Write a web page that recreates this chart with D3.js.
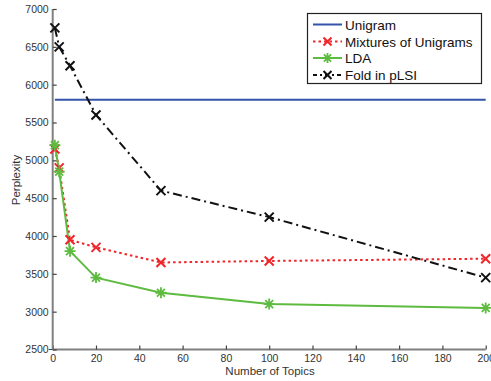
<!DOCTYPE html>
<html><head><meta charset="utf-8">
<script src="https://cdn.jsdelivr.net/npm/d3@7"></script>
<style>body{margin:0;background:#fff}svg{display:block}text{font-family:"Liberation Sans",Arial,sans-serif}</style>
</head><body><svg id="c" width="491" height="381"></svg>
<script>
const topics = [1, 3, 8, 20, 50, 100, 200];
const unigram = [5800, 5800];
const unigramX = [1, 200];
const mixtures = [5150, 4900, 3950, 3850, 3650, 3670, 3700];
const lda = [5200, 4850, 3800, 3450, 3250, 3100, 3050];
const plsi = [6750, 6500, 6250, 5600, 4600, 4250, 3450];
const xTicks = [0, 20, 40, 60, 80, 100, 120, 140, 160, 180, 200];
const yTicks = [2500, 3000, 3500, 4000, 4500, 5000, 5500, 6000, 6500, 7000];
const legendLabels = ["Unigram", "Mixtures of Unigrams", "LDA", "Fold in pLSI"];

const svg = d3.select("#c");
const x = d3.scaleLinear().domain([0, 200]).range([52.7, 485.7]);
const y = d3.scaleLinear().domain([2500, 7000]).range([349.5, 9]);

const gx = svg.append("g").attr("transform", `translate(0,${y(2500)})`)
  .call(d3.axisBottom(x).tickValues(xTicks).tickSize(-4).tickPadding(5).tickFormat(d3.format("d")));
const gy = svg.append("g").attr("transform", `translate(${x(0)},0)`)
  .call(d3.axisLeft(y).tickValues(yTicks).tickSize(-4).tickPadding(4).tickFormat(d3.format("d")));
[gx, gy].forEach(g => {
  g.select(".domain").attr("stroke", "#808080").attr("stroke-width", 2);
  g.selectAll(".tick line").attr("stroke", "#444").attr("stroke-width", 1.2);
  g.selectAll(".tick text").attr("fill", "#333").style("font-size", "10.5px");
});
gx.select(".domain").attr("d", `M${x(0)},0H${x(200)}`);
gy.select(".domain").attr("d", `M0,${y(2500)}V${y(7000)}`);
svg.append("line").attr("x1", x(0) - 4).attr("x2", x(0)).attr("y1", y(2500)).attr("y2", y(2500)).attr("stroke", "#444");

svg.append("text").attr("x", 270).attr("y", 375).attr("text-anchor", "middle")
  .attr("fill", "#333").style("font-size", "11.5px").text("Number of Topics");
svg.append("text").attr("transform", "translate(20,180) rotate(-90)").attr("text-anchor", "middle")
  .attr("fill", "#333").style("font-size", "11.5px").text("Perplexity");

const line = d3.line().x(d => x(d[0])).y(d => y(d[1]));
const colors = { uni: "#3553a8", mix: "#f0252a", lda: "#5dbb3f", plsi: "#111" };

function xMark(g, cx, cy, s, color, w) {
  g.append("path").attr("d", `M${cx - s},${cy - s}L${cx + s},${cy + s}M${cx - s},${cy + s}L${cx + s},${cy - s}`)
    .attr("stroke", color).attr("stroke-width", w).attr("fill", "none");
}
function star(g, cx, cy, s, color, w) {
  const d = s * 0.72;
  g.append("path").attr("d", `M${cx - s},${cy}L${cx + s},${cy}M${cx},${cy - s}L${cx},${cy + s}M${cx - d},${cy - d}L${cx + d},${cy + d}M${cx - d},${cy + d}L${cx + d},${cy - d}`)
    .attr("stroke", color).attr("stroke-width", w).attr("fill", "none");
}

svg.append("path").attr("d", line(unigramX.map((t, i) => [t, unigram[i]])))
  .attr("stroke", colors.uni).attr("stroke-width", 2).attr("fill", "none");
svg.append("path").attr("d", line(topics.map((t, i) => [t, mixtures[i]])))
  .attr("stroke", colors.mix).attr("stroke-width", 2).attr("stroke-dasharray", "2.5,3").attr("fill", "none");
svg.append("path").attr("d", line(topics.map((t, i) => [t, plsi[i]])))
  .attr("stroke", colors.plsi).attr("stroke-width", 2).attr("stroke-dasharray", "9,4,2,4").attr("fill", "none");
svg.append("path").attr("d", line(topics.map((t, i) => [t, lda[i]])))
  .attr("stroke", colors.lda).attr("stroke-width", 2).attr("fill", "none");

const gm = svg.append("g");
topics.forEach((t, i) => xMark(gm, x(t), y(mixtures[i]), 4.5, colors.mix, 2));
topics.forEach((t, i) => xMark(gm, x(t), y(plsi[i]), 4.5, colors.plsi, 2));
topics.forEach((t, i) => star(gm, x(t), y(lda[i]), 5.5, colors.lda, 1.8));

const lg = svg.append("g");
lg.append("rect").attr("x", 307.5).attr("y", 13.5).attr("width", 174).attr("height", 70)
  .attr("fill", "#fff").attr("stroke", "#222").attr("stroke-width", 1.2);
const ly = [24.5, 41.5, 58, 75];
const styles = [
  { c: colors.uni, dash: null, m: null },
  { c: colors.mix, dash: "2.5,3", m: "x" },
  { c: colors.lda, dash: null, m: "*" },
  { c: colors.plsi, dash: "4,3,2,3", m: "x" }
];
legendLabels.forEach((lab, i) => {
  const st = styles[i];
  const p = lg.append("line").attr("x1", 313).attr("x2", 342).attr("y1", ly[i]).attr("y2", ly[i])
    .attr("stroke", st.c).attr("stroke-width", 2);
  if (st.dash) p.attr("stroke-dasharray", st.dash);
  if (st.m === "x") xMark(lg, 327.5, ly[i], 4, st.c, 2);
  if (st.m === "*") star(lg, 327.5, ly[i], 5, st.c, 1.8);
  lg.append("text").attr("x", 345).attr("y", ly[i] + 5).attr("fill", "#111")
    .style("font-size", "13.5px").text(lab);
});
</script></body></html>
